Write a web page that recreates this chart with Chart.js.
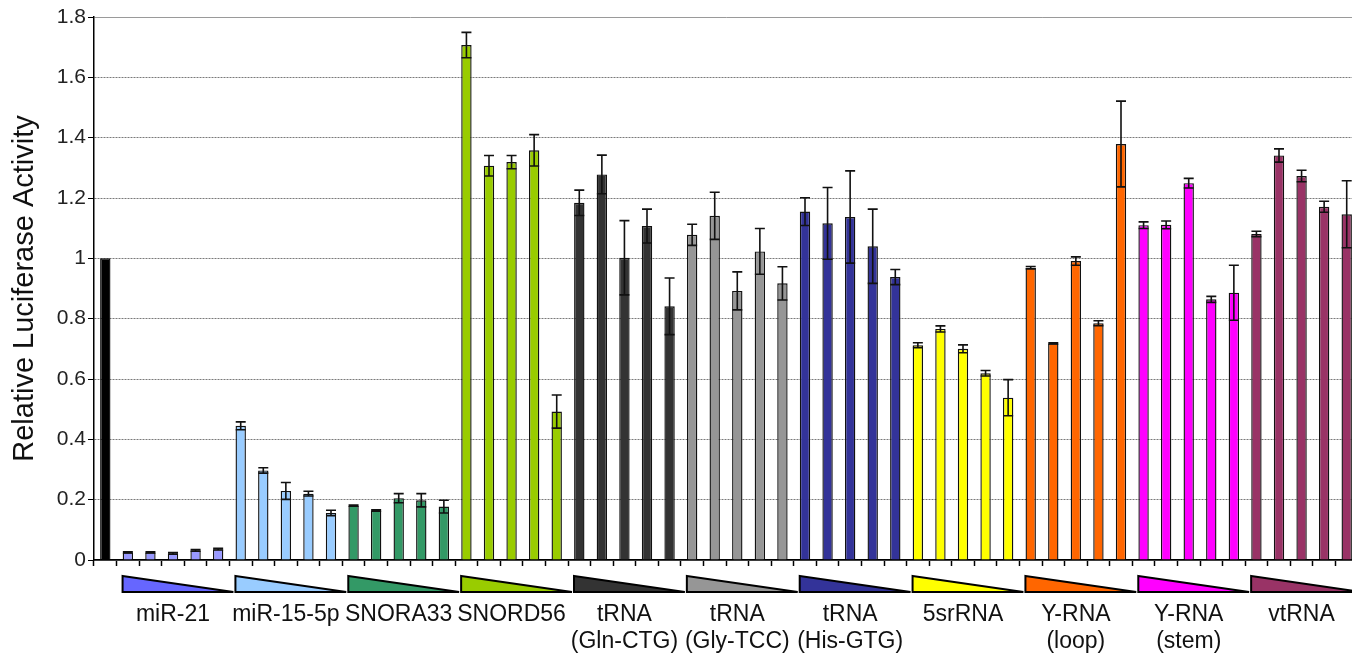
<!DOCTYPE html>
<html>
<head>
<meta charset="utf-8">
<script src="https://cdn.jsdelivr.net/npm/chart.js@4.4.0/dist/chart.umd.min.js"></script>
<style>
  html, body { margin: 0; padding: 0; background: #fff; overflow: hidden; }
  #wrap { width: 1358px; height: 655px; }
</style>
</head>
<body>
<div id="wrap"><canvas id="chart" width="1358" height="655"></canvas></div>
<script>
// group labels under the wedges
const groupNames = ['miR-21', 'miR-15-5p', 'SNORA33', 'SNORD56',
  ['tRNA', '(Gln-CTG)'], ['tRNA', '(Gly-TCC)'], ['tRNA', '(His-GTG)'],
  '5srRNA', ['Y-RNA', '(loop)'], ['Y-RNA', '(stem)'], 'vtRNA'];
const barColors = ['#9999ff', '#99ccff', '#339966', '#99cc00', '#333333', '#969696',
  '#333399', '#ffff00', '#ff6600', '#ff00ff', '#993366'];
const wedgeColors = ['#6666ff', '#99ccff', '#339966', '#99cc00', '#333333', '#969696',
  '#333399', '#ffff00', '#ff6600', '#ff00ff', '#993366'];

// values (5 doses per group, decreasing)
const control = [1.0];
const controlErr = [0];
const mir21 = [0.025, 0.025, 0.022, 0.032, 0.036];
const mir21Err = [0.002, 0.002, 0.003, 0.003, 0.003];
const mir15 = [0.445, 0.297, 0.229, 0.220, 0.156];
const mir15Err = [0.013, 0.009, 0.028, 0.008, 0.009];
const snora33 = [0.180, 0.164, 0.205, 0.198, 0.177];
const snora33Err = [0.002, 0.002, 0.015, 0.022, 0.021];
const snord56 = [1.707, 1.307, 1.319, 1.358, 0.492];
const snord56Err = [0.042, 0.034, 0.022, 0.052, 0.055];
const glnCTG = [1.184, 1.278, 1.002, 1.107, 0.841];
const glnCTGErr = [0.042, 0.064, 0.123, 0.056, 0.094];
const glyTCC = [1.078, 1.141, 0.892, 1.023, 0.917];
const glyTCCErr = [0.035, 0.078, 0.063, 0.076, 0.055];
const hisGTG = [1.155, 1.116, 1.137, 1.040, 0.938];
const hisGTGErr = [0.046, 0.119, 0.153, 0.123, 0.025];
const srRNA5 = [0.712, 0.766, 0.700, 0.619, 0.538];
const srRNA5Err = [0.008, 0.010, 0.013, 0.009, 0.060];
const yLoop = [0.969, 0.718, 0.991, 0.785, 1.379];
const yLoopErr = [0.004, 0.002, 0.014, 0.008, 0.142];
const yStem = [1.110, 1.111, 1.249, 0.864, 0.886];
const yStemErr = [0.011, 0.013, 0.016, 0.010, 0.091];
const vtRNA = [1.081, 1.341, 1.273, 1.171, 1.146];
const vtRNAErr = [0.009, 0.022, 0.019, 0.018, 0.111];

const yTicks = [0, 0.2, 0.4, 0.6, 0.8, 1, 1.2, 1.4, 1.6, 1.8];

const groupValues = [mir21, mir15, snora33, snord56, glnCTG, glyTCC, hisGTG, srRNA5, yLoop, yStem, vtRNA];
const groupErrors = [mir21Err, mir15Err, snora33Err, snord56Err, glnCTGErr, glyTCCErr, hisGTGErr, srRNA5Err, yLoopErr, yStemErr, vtRNAErr];

const values = control.concat(...groupValues);
const errors = controlErr.concat(...groupErrors);
const colors = ['#000000'];
const labels = [''];
groupValues.forEach((g, gi) => {
  g.forEach((v, k) => {
    colors.push(barColors[gi]);
    labels.push(k === 2 ? groupNames[gi] : '');
  });
});

const errorBars = {
  id: 'errorBars',
  afterDatasetsDraw(chart) {
    const meta = chart.getDatasetMeta(0);
    const y = chart.scales.y;
    const c = chart.ctx;
    c.save();
    c.strokeStyle = '#111';
    c.lineWidth = 1.6;
    meta.data.forEach((bar, i) => {
      const e = errors[i];
      if (!e) return;
      const top = y.getPixelForValue(values[i] + e);
      const bot = y.getPixelForValue(values[i] - e);
      const x = bar.x, h = 5;
      c.beginPath();
      c.moveTo(x, top); c.lineTo(x, bot);
      c.moveTo(x - h, top); c.lineTo(x + h, top);
      c.moveTo(x - h, bot); c.lineTo(x + h, bot);
      c.stroke();
    });
    c.restore();
  }
};

// dose wedges between the axis and the group names
const wedges = {
  id: 'wedges',
  afterDraw(chart) {
    const x = chart.scales.x;
    const c = chart.ctx;
    const w = x.width / labels.length;
    const top = x.top + 16, bot = x.top + 32;
    c.save();
    c.lineWidth = 2;
    c.strokeStyle = '#000';
    c.lineJoin = 'miter';
    groupNames.forEach((g, gi) => {
      const first = 1 + gi * 5, last = first + 4;
      const l = x.getPixelForValue(first) - w / 2 + 6;
      const r = x.getPixelForValue(last) + w / 2 + 4;
      c.beginPath();
      c.moveTo(l, top);
      c.lineTo(r, bot);
      c.lineTo(l, bot);
      c.closePath();
      c.fillStyle = wedgeColors[gi];
      c.fill();
      c.stroke();
    });
    c.restore();
  }
};

const font = 'Arial, "Liberation Sans", sans-serif';

new Chart(document.getElementById('chart'), {
  type: 'bar',
  data: {
    labels: labels,
    datasets: [{
      data: values,
      backgroundColor: colors,
      borderColor: '#111',
      borderWidth: 1.4,
      barPercentage: 0.46,
      categoryPercentage: 1.0
    }]
  },
  options: {
    responsive: false,
    animation: false,
    layout: { padding: { top: 17, right: 0, left: 0, bottom: 0 } },
    plugins: { legend: { display: false }, tooltip: { enabled: false } },
    scales: {
      x: {
        afterFit(scale) {
          scale.height = 95;
          scale.paddingLeft = 0;
          scale.paddingRight = 0;
        },
        grid: { drawOnChartArea: false, tickLength: 6, tickColor: '#000', tickWidth: 1.5, offset: true },
        border: { color: '#000', width: 1.5 },
        ticks: {
          autoSkip: false, maxRotation: 0, minRotation: 0, padding: 35,
          color: '#111', font: { family: font, size: 23, lineHeight: 1.17 }
        }
      },
      y: {
        min: 0, max: 1.8,
        afterFit(scale) { scale.width = 94; },
        afterBuildTicks(scale) { scale.ticks = yTicks.map(v => ({ value: v })); },
        grid: {
          color: ctx => (ctx.tick && ctx.tick.value === 1.8) ? '#9a9a9a' : '#7a7a7a',
          lineWidth: 1,
          tickLength: 6, tickColor: '#000'
        },
        border: {
          color: '#000', width: 1.5,
          dash: ctx => (ctx.tick && ctx.tick.value > 0 && ctx.tick.value < 1.8) ? [2, 1] : []
        },
        ticks: {
          padding: 2, color: '#222',
          font: { family: font, size: 21 },
          callback: v => String(Number(v.toFixed(1)))
        },
        title: {
          display: true, text: 'Relative Luciferase Activity',
          color: '#111', font: { family: font, size: 29 },
          padding: { top: 8, bottom: 0 }
        }
      }
    }
  },
  plugins: [errorBars, wedges]
});
</script>
</body>
</html>
